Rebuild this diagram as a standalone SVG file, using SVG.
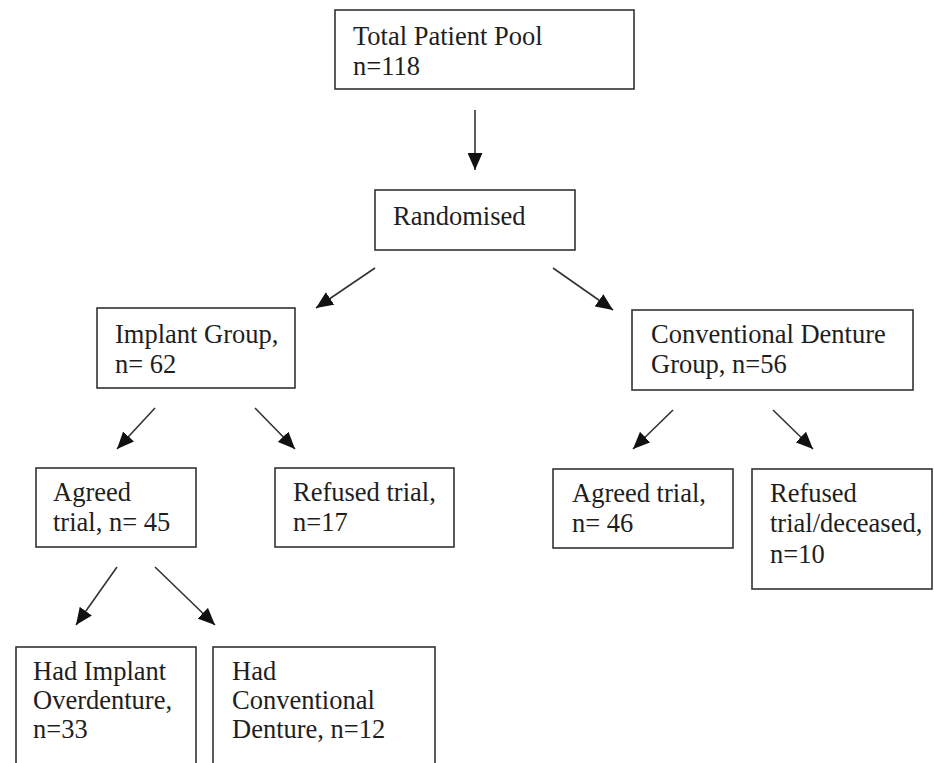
<svg xmlns="http://www.w3.org/2000/svg" width="934" height="763" viewBox="0 0 934 763">
<style>
.box{fill:#fff;stroke:#333;stroke-width:1.6}
.t{font-family:"Liberation Serif","Times New Roman",serif;font-size:26.5px;fill:#1e1e1e}
.c{stroke:#333;stroke-width:1.6;fill:none}
</style>
<defs>
<marker id="ah" viewBox="0 0 16 14" refX="16" refY="7" markerWidth="17" markerHeight="15" markerUnits="userSpaceOnUse" orient="auto">
<path d="M0,0 L16,7 L0,14 Z" fill="#111"/>
</marker>
</defs>
<rect width="934" height="763" fill="#fff"/>
<g id="connectors">
<line class="c" x1="475" y1="110" x2="475" y2="170" marker-end="url(#ah)"/>
<line class="c" x1="375" y1="268" x2="316" y2="308" marker-end="url(#ah)"/>
<line class="c" x1="553" y1="268" x2="613" y2="310" marker-end="url(#ah)"/>
<line class="c" x1="155" y1="408" x2="117" y2="449" marker-end="url(#ah)"/>
<line class="c" x1="255" y1="408" x2="295" y2="449" marker-end="url(#ah)"/>
<line class="c" x1="673" y1="410" x2="633" y2="449" marker-end="url(#ah)"/>
<line class="c" x1="773" y1="410" x2="813" y2="449" marker-end="url(#ah)"/>
<line class="c" x1="117" y1="567" x2="76" y2="625" marker-end="url(#ah)"/>
<line class="c" x1="155" y1="567" x2="215" y2="625" marker-end="url(#ah)"/>
</g>
<g id="total">
<rect class="box" x="335" y="10" width="299" height="79"/>
<text class="t" x="353" y="45">Total Patient Pool</text>
<text class="t" x="353" y="75">n=118</text>
</g>
<g id="randomised">
<rect class="box" x="375" y="190" width="200" height="60"/>
<text class="t" x="393" y="225">Randomised</text>
</g>
<g id="implant">
<rect class="box" x="97" y="308" width="198" height="80"/>
<text class="t" x="115" y="343">Implant Group,</text>
<text class="t" x="115" y="373">n= 62</text>
</g>
<g id="conventional">
<rect class="box" x="632" y="310" width="281" height="80"/>
<text class="t" x="651" y="343">Conventional Denture</text>
<text class="t" x="651" y="373">Group, n=56</text>
</g>
<g id="agreed1">
<rect class="box" x="36" y="468" width="160" height="79"/>
<text class="t" x="53" y="501">Agreed</text>
<text class="t" x="53" y="531">trial, n= 45</text>
</g>
<g id="refused1">
<rect class="box" x="275" y="468" width="179" height="79"/>
<text class="t" x="293" y="501">Refused trial,</text>
<text class="t" x="293" y="531">n=17</text>
</g>
<g id="agreed2">
<rect class="box" x="553" y="469" width="180" height="79"/>
<text class="t" x="572" y="502">Agreed trial,</text>
<text class="t" x="572" y="532">n= 46</text>
</g>
<g id="refused2">
<rect class="box" x="752" y="469" width="180" height="120"/>
<text class="t" x="770" y="502">Refused</text>
<text class="t" x="770" y="532">trial/deceased,</text>
<text class="t" x="770" y="563">n=10</text>
</g>
<g id="hadImplant">
<rect class="box" x="16" y="647" width="180" height="130"/>
<text class="t" x="33" y="680">Had Implant</text>
<text class="t" x="33" y="709">Overdenture,</text>
<text class="t" x="33" y="738">n=33</text>
</g>
<g id="hadConventional">
<rect class="box" x="213" y="647" width="222" height="130"/>
<text class="t" x="232" y="680">Had</text>
<text class="t" x="232" y="709">Conventional</text>
<text class="t" x="232" y="738">Denture, n=12</text>
</g>
</svg>
